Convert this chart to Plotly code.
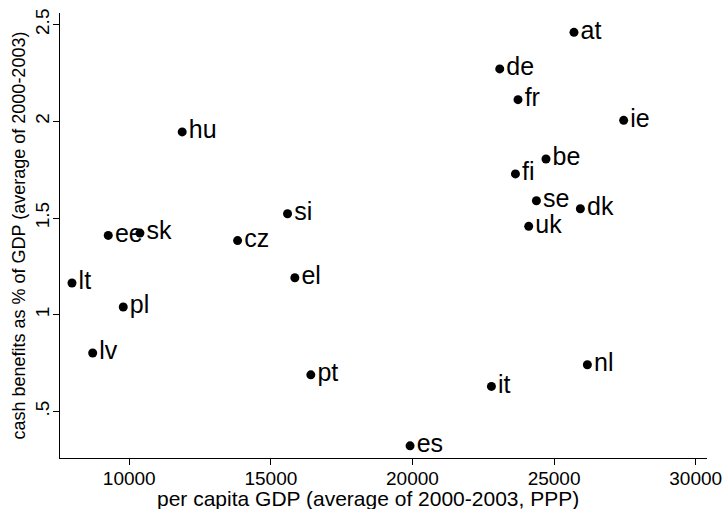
import plotly.graph_objects as go

countries = ["at", "de", "fr", "ie", "be", "fi", "se", "dk", "uk", "si", "ee", "sk",
             "cz", "lt", "el", "pl", "lv", "pt", "hu", "it", "nl", "es"]
gdp_pc = [25702, 23081, 23726, 27456, 24714, 23635, 24376, 25928, 24104, 15589, 9259, 10378,
          13825, 7978, 15847, 9788, 8709, 16411, 11870, 22788, 26175, 19915]
cash_benefits = [2.46, 2.271, 2.112, 2.005, 1.805, 1.728, 1.589, 1.548, 1.457, 1.522, 1.410, 1.422,
                 1.383, 1.164, 1.191, 1.040, 0.802, 0.689, 1.945, 0.629, 0.741, 0.322]

x_ticks = [10000, 15000, 20000, 25000, 30000]
x_tick_labels = ["10000", "15000", "20000", "25000", "30000"]
y_ticks = [0.5, 1.0, 1.5, 2.0, 2.5]
y_tick_labels = [".5", "1", "1.5", "2", "2.5"]
x_title = "per capita GDP (average of 2000-2003, PPP)"
y_title = "cash benefits as % of GDP (average of 2000-2003)"

FONT = "Liberation Sans, Arial, Helvetica, sans-serif"

fig = go.Figure()
fig.add_trace(go.Scatter(
    x=gdp_pc, y=cash_benefits, mode="markers+text",
    text=countries, textposition="middle right",
    textfont=dict(family=FONT, size=25, color="black"),
    marker=dict(size=9, color="black"),
    cliponaxis=False, showlegend=False, hoverinfo="skip",
))

fig.update_layout(
    width=722, height=509,
    margin=dict(l=60, r=15, t=13, b=51),
    paper_bgcolor="white", plot_bgcolor="white",
    font=dict(family=FONT, size=19, color="black"),
)
fig.update_xaxes(
    range=[7555, 30399], tickvals=x_ticks, ticktext=x_tick_labels,
    showgrid=False, zeroline=False, showline=True, linecolor="black", linewidth=1,
    ticks="outside", ticklen=6, tickcolor="black", automargin=False,
    ticklabeloverflow="allow", ticklabelstandoff=-3,
    tickfont=dict(family=FONT, size=19),
)
fig.update_yaxes(
    range=[0.259, 2.56], tickvals=y_ticks, ticktext=y_tick_labels, tickangle=-90,
    showgrid=False, zeroline=False, showline=True, linecolor="black", linewidth=1,
    ticks="outside", ticklen=6, tickcolor="black", automargin=False,
    ticklabelstandoff=-4,
    tickfont=dict(family=FONT, size=19),
)
fig.add_annotation(
    text=x_title, xref="paper", yref="paper", x=(367.5 - 60) / 647, y=0,
    xanchor="center", yanchor="middle", yshift=-40, showarrow=False,
    font=dict(family=FONT, size=21, color="black"),
)
fig.add_annotation(
    text=y_title, xref="paper", yref="paper", x=0, y=0.5, textangle=-90,
    xanchor="center", yanchor="middle", xshift=-42, showarrow=False,
    font=dict(family=FONT, size=18, color="black"),
)

fig.write_html("out.html", config={"displayModeBar": False},
               post_script="document.body.style.margin='0';document.body.style.overflow='hidden';")
